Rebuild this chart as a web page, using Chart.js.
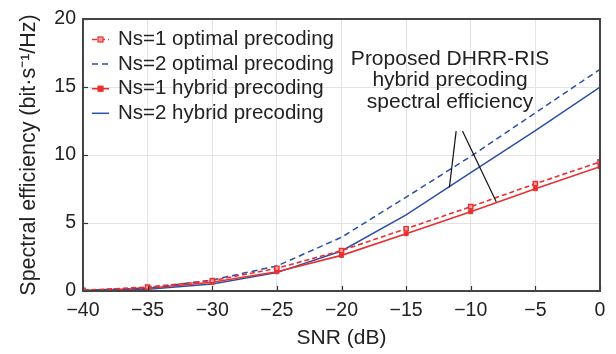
<!DOCTYPE html>
<html>
<head>
<meta charset="utf-8">
<script src="https://cdn.jsdelivr.net/npm/chart.js@4.4.1/dist/chart.umd.min.js"></script>
<style>
html,body{margin:0;padding:0;background:#fff;}
#wrap{width:616px;height:354px;position:relative;}
</style>
</head>
<body>
<div id="wrap"><canvas id="c" width="616" height="354"></canvas></div>
<script>
const snr = [-40, -35, -30, -25, -20, -15, -10, -5, 0];
const ns1Optimal = [0.05, 0.29, 0.76, 1.67, 2.97, 4.58, 6.20, 7.89, 9.49];
const ns2Optimal = [0.05, 0.22, 0.81, 1.84, 3.95, 6.90, 9.90, 13.10, 16.30];
const ns1Hybrid  = [0.03, 0.20, 0.64, 1.42, 2.62, 4.21, 5.83, 7.52, 9.14];
const ns2Hybrid  = [0.02, 0.12, 0.51, 1.35, 2.94, 5.60, 8.70, 11.80, 15.00];
const seriesLabels = ["Ns=1 optimal precoding", "Ns=2 optimal precoding", "Ns=1 hybrid precoding", "Ns=2 hybrid precoding"];
const xTicks = [-40, -35, -30, -25, -20, -15, -10, -5, 0];
const yTicks = [0, 5, 10, 15, 20];
const annotationLines = ["Proposed DHRR-RIS", "hybrid precoding", "spectral efficiency"];
const annotationAnchor = {x: -11.6, y: 17.05};
const pointerA = [{x: -11.13, y: 11.76}, {x: -11.65, y: 7.62}];
const pointerB = [{x: -10.64, y: 11.76}, {x: -8.03, y: 6.57}];

const RED = '#e8302f';
const BLUE = '#2b4fa6';
const FONT = '"Liberation Sans", Arial, sans-serif';

function pts(ys){ return snr.map((x,i)=>({x:x, y:ys[i]})); }

const datasets = [
  {label: seriesLabels[0], data: pts(ns1Optimal), borderColor: RED, backgroundColor: '#f4a3a3', borderWidth: 1.6, borderDash: [5,3], pointStyle: 'rect', pointRadius: 3, pointBorderWidth: 1.4, pointBorderColor: RED},
  {label: seriesLabels[1], data: pts(ns2Optimal), borderColor: BLUE, backgroundColor: BLUE, borderWidth: 1.5, borderDash: [6,4], pointRadius: 0},
  {label: seriesLabels[2], data: pts(ns1Hybrid), borderColor: RED, backgroundColor: RED, borderWidth: 1.6, pointStyle: 'rect', pointRadius: 2.8, pointBorderWidth: 1, pointBorderColor: RED},
  {label: seriesLabels[3], data: pts(ns2Hybrid), borderColor: BLUE, backgroundColor: BLUE, borderWidth: 1.5, pointRadius: 0}
];

const framePlugin = {
  id: 'frame',
  afterDatasetsDraw(chart){
    const {ctx, chartArea: a, scales} = chart;
    ctx.save();
    // inner ticks
    ctx.strokeStyle = '#333';
    ctx.lineWidth = 1.2;
    xTicks.forEach(v=>{
      const px = Math.round(scales.x.getPixelForValue(v))+0.5;
      ctx.beginPath(); ctx.moveTo(px, a.bottom); ctx.lineTo(px, a.bottom-5); ctx.stroke();
    });
    yTicks.forEach(v=>{
      const py = Math.round(scales.y.getPixelForValue(v))+0.5;
      ctx.beginPath(); ctx.moveTo(a.left, py); ctx.lineTo(a.left+5, py); ctx.stroke();
    });
    // frame
    ctx.strokeStyle = '#444';
    ctx.lineWidth = 2;
    ctx.strokeRect(a.left, a.top, a.right-a.left, a.bottom-a.top);
    // pointer lines
    ctx.strokeStyle = '#111';
    ctx.lineWidth = 1.2;
    [pointerA, pointerB].forEach(seg=>{
      ctx.beginPath();
      ctx.moveTo(scales.x.getPixelForValue(seg[0].x), scales.y.getPixelForValue(seg[0].y));
      ctx.lineTo(scales.x.getPixelForValue(seg[1].x), scales.y.getPixelForValue(seg[1].y));
      ctx.stroke();
    });
    // annotation text
    ctx.fillStyle = '#222';
    ctx.font = '21px ' + FONT;
    ctx.textAlign = 'center';
    ctx.textBaseline = 'middle';
    const ax = scales.x.getPixelForValue(annotationAnchor.x);
    const ay = scales.y.getPixelForValue(annotationAnchor.y);
    annotationLines.forEach((t,i)=> ctx.fillText(t, ax, ay + i*21.5));
    // legend
    ctx.textAlign = 'left';
    ctx.font = '20.5px ' + FONT;
    const lx = a.left + 9, ly = a.top + 20.5, dy = 24.6;
    chart.data.datasets.forEach((ds,i)=>{
      const y = ly + i*dy;
      ctx.strokeStyle = ds.borderColor;
      ctx.lineWidth = ds.borderWidth;
      ctx.setLineDash(ds.borderDash || []);
      ctx.beginPath(); ctx.moveTo(lx, y); ctx.lineTo(lx+17, y); ctx.stroke();
      ctx.setLineDash([]);
      if (ds.pointRadius > 0){
        ctx.fillStyle = ds.backgroundColor;
        ctx.strokeStyle = ds.borderColor;
        ctx.lineWidth = 1.2;
        ctx.fillRect(lx+8.5-2.5, y-2.5, 5, 5);
        ctx.strokeRect(lx+8.5-2.5, y-2.5, 5, 5);
      }
      ctx.fillStyle = '#222';
      ctx.fillText(ds.label, lx+26, y);
    });
    ctx.restore();
  }
};

const fmt = v => String(v).replace('-', '\u2212');

new Chart(document.getElementById('c'), {
  type: 'line',
  data: {datasets},
  options: {
    responsive: false,
    animation: false,
    devicePixelRatio: 1,
    layout: {padding: {top: 19, right: 16, left: 0, bottom: 0}},
    plugins: {legend: {display: false}, tooltip: {enabled: false}},
    elements: {line: {tension: 0}},
    scales: {
      x: {
        type: 'linear', min: -40, max: 0,
        afterBuildTicks(s){ s.ticks = xTicks.map(v=>({value:v})); },
        afterFit(s){ s.height = 63; },
        grid: {color: '#e3e3e3', lineWidth: 1, drawTicks: false},
        border: {display: false},
        ticks: {padding: 8, color: '#222', font: {family: FONT, size: 19.5}, callback: v => fmt(v), maxRotation: 0},
        title: {display: true, text: 'SNR (dB)', color: '#222', font: {family: FONT, size: 21}, padding: {top: 4, bottom: 3}}
      },
      y: {
        type: 'linear', min: 0, max: 20,
        afterBuildTicks(s){ s.ticks = yTicks.map(v=>({value:v})); },
        afterFit(s){ s.width = 83; },
        grid: {color: '#e3e3e3', lineWidth: 1, drawTicks: false},
        border: {display: false},
        ticks: {padding: 7, color: '#222', font: {family: FONT, size: 19.5}, callback: v => fmt(v)},
        title: {display: true, text: 'Spectral efficiency (bit\u00b7s\u207b\u00b9/Hz)', color: '#222', font: {family: FONT, size: 21.5}, padding: {top: 16, bottom: 4}}
      }
    }
  },
  plugins: [framePlugin]
});
</script>
</body>
</html>
